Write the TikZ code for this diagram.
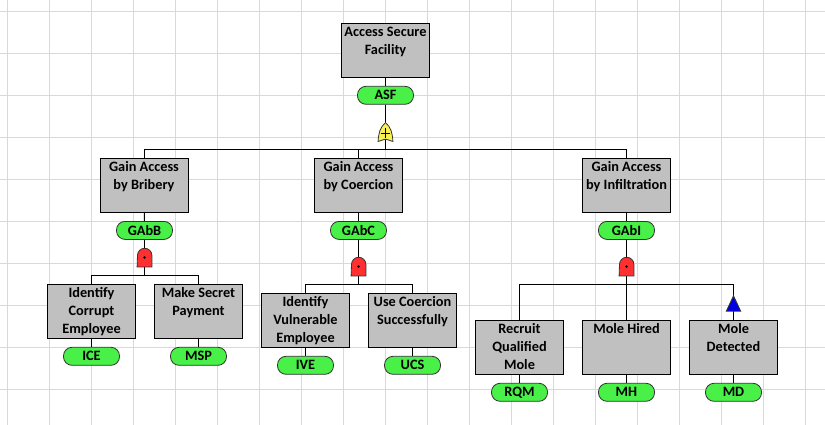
\documentclass[tikz,border=0pt]{standalone}
\usepackage{fontspec}
\setmainfont{Carlito}
\definecolor{gridgray}{RGB}{217,217,217}
\definecolor{boxgray}{RGB}{192,192,192}
\definecolor{idgreen}{RGB}{72,240,72}
\definecolor{andred}{RGB}{255,48,48}
\definecolor{oryellow}{RGB}{248,240,80}
\definecolor{triblue}{RGB}{0,0,225}
\newcommand{\toptext}[1]{\parbox[c][52pt][t]{87pt}{\centering\baselineskip=18pt\strut #1}}
\newcommand{\andshape}[1]{\draw[gateline, fill=andred] (#1.south west) -- (#1.south east) -- ([yshift=2.05pt]#1.east) arc (0:180:7.2pt) -- cycle;
    \fill (#1.center) circle (1.3pt);}
\newcommand{\orshape}[1]{\draw[gateline, fill=oryellow] (#1.south west) .. controls ([xshift=0.5pt,yshift=9pt]#1.south west) and ([xshift=2pt,yshift=14pt]#1.south west) .. (#1.north) .. controls ([xshift=-2pt,yshift=14pt]#1.south east) and ([xshift=-0.5pt,yshift=9pt]#1.south east) .. (#1.south east) .. controls ([xshift=-3pt,yshift=3pt]#1.south) and ([xshift=3pt,yshift=3pt]#1.south) .. (#1.south west) -- cycle;
    \draw[line width=0.8pt] ([xshift=-4.5pt,yshift=-1pt]#1.center) -- ++(9,0) ([yshift=4pt]#1.center) -- ++(0,10);}
\tikzset{
    eventbox/.style={draw=black, line width=1pt, fill=boxgray, inner sep=0pt, minimum width=88pt, minimum height=54pt, font=\bfseries\fontsize{14.3pt}{18pt}\selectfont},
    idbox/.style={draw=black!80, line width=0.8pt, fill=idgreen, rounded corners=8.5pt, inner sep=0pt, minimum width=56pt, minimum height=18pt, font=\bfseries\fontsize{14.3pt}{16pt}\selectfont},
    gatebox/.style={inner sep=0pt, minimum width=14.4pt, minimum height=18.5pt},
    tribox/.style={inner sep=0pt, minimum width=14pt, minimum height=15pt},
    gateline/.style={draw=black!80, line width=0.8pt},
    wire/.style={black, line width=1pt},
    gridline/.style={gridgray, line width=1pt}
}

\begin{document}
\begin{tikzpicture}[x=1pt, y=-1pt]
    \useasboundingbox (0,0) rectangle (825,425);
    \fill[white] (0,0) rectangle (825,425);
    \foreach \gx in {0,...,19}
        \draw[gridline] (7.5+42*\gx,0) -- (7.5+42*\gx,425);
    \foreach \gy in {0,...,9}
        \draw[gridline] (0,11.5+42*\gy) -- (825,11.5+42*\gy);

    % top event
    \node[eventbox] (asf) at (385.5,50.3) {\toptext{Access Secure\\Facility}};
    \node[idbox] (asfid) at (385.5,95.3) {ASF};
    \node[gatebox] (orgate) at (385.5,132) {};
    \coordinate (asfbus) at (385.5,149.5);

    % second row
    \node[eventbox] (gabb) at (144,185.3) {\toptext{Gain Access\\by Bribery}};
    \node[idbox] (gabbid) at (144.5,230.4) {GAbB};
    \node[gatebox] (gabbgate) at (144.5,257.5) {};
    \coordinate (gabbbus) at (144.5,275.5);
    \node[eventbox] (gabc) at (358.5,185.3) {\toptext{Gain Access\\by Coercion}};
    \node[idbox] (gabcid) at (358.5,230.4) {GAbC};
    \node[gatebox] (gabcgate) at (358.5,266.5) {};
    \coordinate (gabcbus) at (358.5,284.5);
    \node[eventbox] (gabi) at (626.5,185.3) {\toptext{Gain Access\\by Infiltration}};
    \node[idbox] (gabiid) at (626.5,230.4) {GAbI};
    \node[gatebox] (gabigate) at (626.5,266.5) {};
    \coordinate (gabibus) at (626.5,284.5);

    % leaves
    \node[eventbox] (ice) at (91.5,311.3) {\toptext{Identify\\Corrupt\\Employee}};
    \node[idbox] (iceid) at (91.5,356.3) {ICE};
    \node[eventbox] (msp) at (198.5,311.3) {\toptext{Make Secret\\Payment}};
    \node[idbox] (mspid) at (198.5,356.3) {MSP};
    \node[eventbox] (ive) at (305.5,320.3) {\toptext{Identify\\Vulnerable\\Employee}};
    \node[idbox] (iveid) at (305.5,365.3) {IVE};
    \node[eventbox] (ucs) at (412.5,320.3) {\toptext{Use Coercion\\Successfully}};
    \node[idbox] (ucsid) at (412.5,365.3) {UCS};
    \node[eventbox] (rqm) at (519.5,347.3) {\toptext{Recruit\\Qualified\\Mole}};
    \node[idbox] (rqmid) at (519.5,392.3) {RQM};
    \node[eventbox] (mh) at (626.5,347.3) {\toptext{Mole Hired}};
    \node[idbox] (mhid) at (626.5,392.3) {MH};
    \node[eventbox] (md) at (733.5,347.3) {\toptext{Mole\\Detected}};
    \node[idbox] (mdid) at (733.5,392.3) {MD};
    \node[tribox] (tri) at (733.5,303.5) {};

    \draw[wire] (asf) -- (asfid);
    \draw[wire] (asfid) -- (asfbus);
    \draw[wire] (asfbus) -| (gabb);
    \draw[wire] (asfbus) -| (gabc);
    \draw[wire] (asfbus) -| (gabi);
    \draw[wire] (gabb) -- (gabbid);
    \draw[wire] (gabbid) -- (gabbbus);
    \draw[wire] (gabbbus) -| (ice);
    \draw[wire] (gabbbus) -| (msp);
    \draw[wire] (gabc) -- (gabcid);
    \draw[wire] (gabcid) -- (gabcbus);
    \draw[wire] (gabcbus) -| (ive);
    \draw[wire] (gabcbus) -| (ucs);
    \draw[wire] (gabi) -- (gabiid);
    \draw[wire] (gabiid) -- (mh);
    \draw[wire] (gabibus) -| (rqm);
    \draw[wire] (gabibus) -| (tri.north);
    \draw[wire] (tri.south) -- (md);
    \draw[wire] (ice) -- (iceid);
    \draw[wire] (msp) -- (mspid);
    \draw[wire] (ive) -- (iveid);
    \draw[wire] (ucs) -- (ucsid);
    \draw[wire] (rqm) -- (rqmid);
    \draw[wire] (mh) -- (mhid);
    \draw[wire] (md) -- (mdid);

    \orshape{orgate}
    \andshape{gabbgate}
    \andshape{gabcgate}
    \andshape{gabigate}
    \draw[gateline, fill=triblue] (tri.south west) -- (tri.south east) -- (tri.north) -- cycle;
\end{tikzpicture}
\end{document}
